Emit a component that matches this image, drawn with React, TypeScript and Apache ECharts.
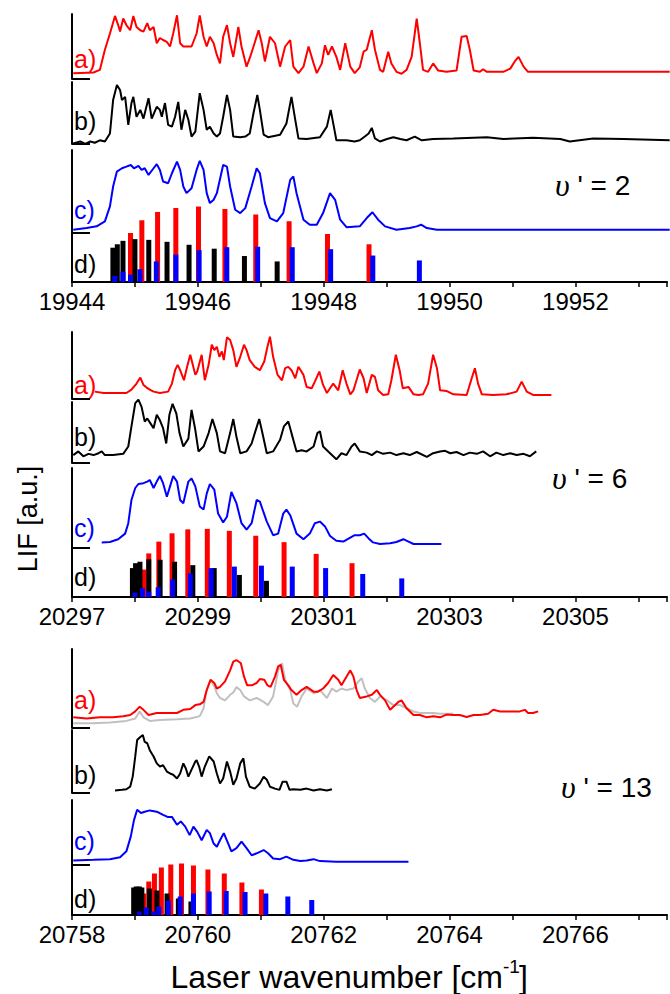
import React, { useEffect, useRef } from 'react';
import * as echarts from 'echarts';

type P = [number, number][];

// ---------- Panel 1 (v' = 2) ----------
const p1a: P = [[19944.02,0.09],[19944.34,0.10],[19944.44,0.14],[19944.52,0.45],[19944.60,0.70],[19944.68,0.97],[19944.73,0.83],[19944.76,0.73],[19944.81,0.93],[19944.86,0.83],[19944.92,0.75],[19944.97,0.97],[19945.02,0.80],[19945.08,0.75],[19945.13,0.73],[19945.19,0.86],[19945.23,0.75],[19945.29,0.80],[19945.34,0.55],[19945.39,0.63],[19945.44,0.60],[19945.50,0.57],[19945.55,0.50],[19945.60,0.70],[19945.66,0.98],[19945.71,0.55],[19945.76,0.50],[19945.81,0.50],[19945.89,0.50],[19945.97,0.70],[19946.02,0.98],[19946.08,0.65],[19946.13,0.50],[19946.18,0.65],[19946.24,0.55],[19946.29,0.37],[19946.34,0.24],[19946.39,0.65],[19946.45,0.83],[19946.50,0.55],[19946.55,0.34],[19946.63,0.80],[19946.68,0.50],[19946.76,0.19],[19946.81,0.32],[19946.87,0.50],[19946.95,0.75],[19947.00,0.55],[19947.05,0.27],[19947.13,0.65],[19947.21,0.55],[19947.29,0.19],[19947.37,0.50],[19947.45,0.60],[19947.50,0.19],[19947.58,0.09],[19947.66,0.19],[19947.74,0.50],[19947.82,0.24],[19947.87,0.09],[19947.95,0.24],[19948.00,0.52],[19948.05,0.37],[19948.11,0.50],[19948.18,0.34],[19948.24,0.14],[19948.32,0.55],[19948.40,0.19],[19948.47,0.09],[19948.55,0.18],[19948.61,0.42],[19948.66,0.45],[19948.74,0.75],[19948.79,0.45],[19948.87,0.14],[19948.92,0.11],[19949.00,0.42],[19949.05,0.24],[19949.13,0.11],[19949.21,0.08],[19949.29,0.14],[19949.37,0.34],[19949.45,0.93],[19949.50,0.55],[19949.55,0.14],[19949.63,0.11],[19949.71,0.24],[19949.79,0.13],[19949.92,0.11],[19950.08,0.13],[19950.16,0.65],[19950.24,0.66],[19950.29,0.45],[19950.35,0.13],[19950.45,0.11],[19950.50,0.15],[19950.56,0.11],[19950.82,0.11],[19950.93,0.16],[19951.00,0.27],[19951.06,0.34],[19951.14,0.19],[19951.21,0.11],[19951.29,0.11],[19953.45,0.11]];
const p1b: P = [[19944.02,0.01],[19944.13,0.04],[19944.21,0.00],[19944.29,0.04],[19944.36,0.02],[19944.44,0.06],[19944.52,0.04],[19944.60,0.17],[19944.65,0.71],[19944.71,0.95],[19944.76,0.87],[19944.79,0.71],[19944.84,0.76],[19944.89,0.31],[19944.94,0.66],[19944.97,0.76],[19945.02,0.44],[19945.08,0.55],[19945.13,0.41],[19945.21,0.74],[19945.26,0.41],[19945.34,0.60],[19945.39,0.55],[19945.42,0.44],[19945.47,0.66],[19945.52,0.31],[19945.58,0.28],[19945.63,0.44],[19945.68,0.68],[19945.73,0.23],[19945.79,0.55],[19945.84,0.39],[19945.89,0.12],[19945.95,0.20],[19946.02,0.82],[19946.08,0.55],[19946.13,0.23],[19946.18,0.28],[19946.24,0.17],[19946.29,0.12],[19946.34,0.17],[19946.39,0.44],[19946.45,0.79],[19946.50,0.55],[19946.55,0.12],[19946.66,0.11],[19946.74,0.12],[19946.81,0.17],[19946.87,0.50],[19946.93,0.79],[19946.97,0.55],[19947.03,0.15],[19947.10,0.11],[19947.29,0.15],[19947.39,0.33],[19947.47,0.76],[19947.53,0.39],[19947.58,0.09],[19947.71,0.08],[19947.92,0.11],[19948.03,0.28],[19948.09,0.55],[19948.14,0.28],[19948.18,0.06],[19948.34,0.06],[19948.47,0.04],[19948.55,0.06],[19948.63,0.12],[19948.69,0.17],[19948.74,0.26],[19948.79,0.09],[19948.87,0.04],[19948.98,0.08],[19949.08,0.11],[19949.19,0.08],[19949.29,0.06],[19949.42,0.12],[19949.53,0.06],[19949.71,0.08],[19950.03,0.09],[19950.56,0.11],[19950.82,0.08],[19951.29,0.10],[19951.72,0.08],[19951.87,0.04],[19952.24,0.09],[19952.72,0.08],[19953.45,0.06]];
const p1c: P = [[19944.02,0.04],[19944.23,0.06],[19944.39,0.08],[19944.52,0.14],[19944.60,0.32],[19944.65,0.56],[19944.71,0.74],[19944.79,0.78],[19944.86,0.80],[19944.93,0.82],[19944.98,0.78],[19945.05,0.81],[19945.10,0.76],[19945.15,0.78],[19945.21,0.70],[19945.29,0.78],[19945.34,0.83],[19945.39,0.76],[19945.44,0.62],[19945.52,0.60],[19945.58,0.72],[19945.66,0.86],[19945.71,0.76],[19945.76,0.56],[19945.81,0.48],[19945.89,0.54],[19945.97,0.76],[19946.02,0.87],[19946.08,0.76],[19946.13,0.48],[19946.18,0.36],[19946.24,0.40],[19946.29,0.48],[19946.39,0.82],[19946.45,0.80],[19946.50,0.56],[19946.58,0.28],[19946.66,0.24],[19946.74,0.30],[19946.84,0.56],[19946.92,0.78],[19946.97,0.72],[19947.05,0.36],[19947.13,0.18],[19947.24,0.14],[19947.34,0.24],[19947.45,0.64],[19947.50,0.68],[19947.55,0.48],[19947.66,0.16],[19947.76,0.10],[19947.87,0.10],[19947.97,0.24],[19948.08,0.48],[19948.16,0.40],[19948.24,0.16],[19948.34,0.07],[19948.55,0.08],[19948.66,0.18],[19948.75,0.25],[19948.84,0.16],[19948.95,0.08],[19949.13,0.04],[19949.34,0.06],[19949.45,0.08],[19949.52,0.10],[19949.61,0.06],[19949.77,0.04],[19953.45,0.04]];
const p1dBlack: P = [[19944.65,0.70],[19944.72,0.77],[19944.81,0.84],[19945.00,0.875],[19945.22,0.86],[19945.51,0.82],[19945.86,0.76],[19946.26,0.68],[19946.74,0.53],[19947.26,0.42]];
const p1dRed: P = [[19944.93,1.00],[19945.11,1.26],[19945.36,1.43],[19945.65,1.51],[19946.01,1.54],[19946.43,1.49],[19946.92,1.38],[19947.45,1.24],[19948.06,0.98],[19948.72,0.77]];
const p1dBlue: P = [[19944.68,0.125],[19944.81,0.21],[19944.93,0.15],[19945.08,0.26],[19945.34,0.42],[19945.65,0.56],[19946.02,0.65],[19946.46,0.71],[19946.95,0.72],[19947.50,0.71],[19948.11,0.67],[19948.78,0.54],[19949.52,0.44]];

// ---------- Panel 2 (v' = 6) ----------
const p2a: P = [[20297.36,0.11],[20297.50,0.09],[20297.65,0.09],[20297.86,0.09],[20297.94,0.14],[20298.02,0.23],[20298.08,0.32],[20298.13,0.21],[20298.18,0.17],[20298.23,0.14],[20298.29,0.11],[20298.39,0.09],[20298.52,0.11],[20298.58,0.23],[20298.63,0.43],[20298.67,0.51],[20298.71,0.43],[20298.77,0.28],[20298.82,0.48],[20298.87,0.66],[20298.91,0.51],[20298.95,0.36],[20298.98,0.41],[20299.05,0.66],[20299.10,0.28],[20299.16,0.51],[20299.21,0.81],[20299.25,0.73],[20299.29,0.78],[20299.33,0.63],[20299.37,0.71],[20299.40,0.58],[20299.45,0.92],[20299.50,0.88],[20299.55,0.73],[20299.60,0.48],[20299.66,0.63],[20299.72,0.81],[20299.76,0.73],[20299.81,0.58],[20299.89,0.48],[20299.97,0.43],[20300.04,0.56],[20300.09,0.78],[20300.13,0.93],[20300.18,0.63],[20300.25,0.36],[20300.32,0.28],[20300.37,0.46],[20300.42,0.48],[20300.47,0.43],[20300.53,0.31],[20300.58,0.48],[20300.66,0.36],[20300.71,0.18],[20300.79,0.16],[20300.84,0.26],[20300.91,0.41],[20300.97,0.21],[20301.03,0.09],[20301.08,0.16],[20301.13,0.23],[20301.21,0.13],[20301.28,0.43],[20301.34,0.23],[20301.40,0.07],[20301.45,0.13],[20301.55,0.44],[20301.61,0.31],[20301.66,0.09],[20301.74,0.36],[20301.79,0.33],[20301.84,0.13],[20301.92,0.06],[20302.00,0.07],[20302.05,0.28],[20302.12,0.66],[20302.18,0.43],[20302.23,0.16],[20302.32,0.18],[20302.40,0.07],[20302.48,0.06],[20302.55,0.07],[20302.63,0.23],[20302.71,0.66],[20302.77,0.46],[20302.82,0.13],[20302.92,0.12],[20303.03,0.07],[20303.24,0.06],[20303.32,0.31],[20303.37,0.46],[20303.42,0.23],[20303.48,0.07],[20303.66,0.06],[20303.87,0.07],[20304.03,0.11],[20304.11,0.26],[20304.19,0.11],[20304.29,0.06],[20304.58,0.06]];
const p2b: P = [[20297.02,0.13],[20297.10,0.19],[20297.18,0.11],[20297.26,0.15],[20297.34,0.13],[20297.42,0.16],[20297.47,0.19],[20297.52,0.13],[20297.65,0.13],[20297.81,0.15],[20297.89,0.27],[20297.94,0.60],[20298.00,0.98],[20298.05,1.04],[20298.10,0.92],[20298.15,0.68],[20298.19,0.73],[20298.24,0.65],[20298.29,0.57],[20298.34,0.79],[20298.39,0.70],[20298.44,0.57],[20298.49,0.32],[20298.54,0.79],[20298.59,0.97],[20298.65,0.81],[20298.70,0.49],[20298.76,0.27],[20298.84,0.40],[20298.89,0.87],[20298.95,0.54],[20299.00,0.19],[20299.08,0.27],[20299.16,0.49],[20299.22,0.72],[20299.29,0.49],[20299.34,0.19],[20299.42,0.16],[20299.50,0.49],[20299.55,0.72],[20299.60,0.43],[20299.66,0.16],[20299.76,0.19],[20299.84,0.32],[20299.89,0.49],[20299.96,0.72],[20300.00,0.54],[20300.08,0.16],[20300.18,0.19],[20300.29,0.38],[20300.35,0.60],[20300.42,0.68],[20300.47,0.49],[20300.55,0.19],[20300.63,0.21],[20300.71,0.19],[20300.82,0.27],[20300.88,0.49],[20300.92,0.52],[20300.97,0.27],[20301.08,0.16],[20301.18,0.06],[20301.26,0.16],[20301.34,0.13],[20301.42,0.27],[20301.47,0.32],[20301.55,0.19],[20301.66,0.17],[20301.74,0.13],[20301.82,0.19],[20301.92,0.15],[20302.03,0.17],[20302.13,0.13],[20302.24,0.16],[20302.34,0.13],[20302.45,0.18],[20302.61,0.10],[20302.71,0.16],[20302.82,0.19],[20302.90,0.20],[20302.98,0.16],[20303.08,0.18],[20303.19,0.13],[20303.29,0.17],[20303.40,0.15],[20303.50,0.19],[20303.61,0.11],[20303.71,0.17],[20303.82,0.13],[20303.93,0.16],[20304.03,0.13],[20304.14,0.15],[20304.24,0.11],[20304.34,0.19]];
const p2c: P = [[20297.47,0.07],[20297.60,0.075],[20297.73,0.11],[20297.84,0.18],[20297.89,0.31],[20297.94,0.60],[20298.00,0.75],[20298.05,0.80],[20298.13,0.81],[20298.19,0.83],[20298.23,0.85],[20298.29,0.75],[20298.34,0.83],[20298.39,0.90],[20298.44,0.81],[20298.50,0.64],[20298.55,0.77],[20298.60,0.90],[20298.66,0.83],[20298.71,0.60],[20298.76,0.56],[20298.84,0.83],[20298.89,0.87],[20298.95,0.77],[20299.02,0.52],[20299.08,0.48],[20299.13,0.68],[20299.18,0.80],[20299.25,0.73],[20299.31,0.43],[20299.39,0.32],[20299.45,0.39],[20299.52,0.70],[20299.60,0.56],[20299.68,0.31],[20299.76,0.23],[20299.84,0.31],[20299.92,0.60],[20299.97,0.58],[20300.08,0.33],[20300.18,0.16],[20300.26,0.18],[20300.34,0.43],[20300.39,0.48],[20300.45,0.41],[20300.55,0.18],[20300.66,0.11],[20300.76,0.18],[20300.84,0.31],[20300.92,0.33],[20301.00,0.27],[20301.08,0.15],[20301.18,0.09],[20301.29,0.08],[20301.40,0.13],[20301.47,0.16],[20301.55,0.16],[20301.62,0.18],[20301.69,0.12],[20301.76,0.07],[20301.87,0.05],[20302.03,0.06],[20302.13,0.075],[20302.24,0.11],[20302.32,0.08],[20302.40,0.05],[20302.61,0.05],[20302.84,0.05]];
const p2dBlack: P = [[20297.96,0.59],[20298.01,0.69],[20298.08,0.72],[20298.22,0.77],[20298.40,0.76],[20298.63,0.72],[20298.92,0.65],[20299.26,0.59],[20299.66,0.45],[20300.09,0.33]];
const p2dRed: P = [[20298.14,0.56],[20298.22,0.89],[20298.38,1.13],[20298.59,1.30],[20298.84,1.38],[20299.15,1.39],[20299.50,1.35],[20299.92,1.25],[20300.37,1.12],[20300.88,0.88],[20301.45,0.69]];
const p2dBlue: P = [[20298.00,0.09],[20298.12,0.18],[20298.22,0.11],[20298.37,0.20],[20298.60,0.36],[20298.88,0.48],[20299.21,0.59],[20299.58,0.62],[20300.01,0.64],[20300.50,0.62],[20301.03,0.59],[20301.62,0.47],[20302.24,0.38]];

// ---------- Panel 3 (v' = 13) ----------
const p3a: P = [[20758.02,0.135],[20758.23,0.12],[20758.44,0.135],[20758.65,0.135],[20758.81,0.15],[20758.92,0.165],[20759.00,0.21],[20759.07,0.27],[20759.13,0.23],[20759.21,0.165],[20759.34,0.19],[20759.50,0.19],[20759.66,0.19],[20759.76,0.23],[20759.87,0.24],[20759.95,0.29],[20760.02,0.30],[20760.08,0.33],[20760.13,0.48],[20760.19,0.61],[20760.25,0.57],[20760.29,0.50],[20760.34,0.52],[20760.42,0.59],[20760.50,0.73],[20760.55,0.84],[20760.60,0.86],[20760.67,0.82],[20760.72,0.65],[20760.77,0.54],[20760.84,0.54],[20760.92,0.57],[20760.97,0.62],[20761.04,0.61],[20761.09,0.54],[20761.14,0.52],[20761.21,0.65],[20761.26,0.78],[20761.30,0.80],[20761.35,0.61],[20761.42,0.54],[20761.47,0.48],[20761.55,0.42],[20761.63,0.48],[20761.71,0.52],[20761.82,0.46],[20761.89,0.46],[20761.97,0.50],[20762.05,0.57],[20762.13,0.67],[20762.21,0.61],[20762.26,0.54],[20762.34,0.65],[20762.40,0.73],[20762.45,0.65],[20762.50,0.48],[20762.55,0.38],[20762.66,0.40],[20762.74,0.42],[20762.82,0.48],[20762.87,0.42],[20762.95,0.35],[20763.03,0.23],[20763.08,0.27],[20763.16,0.33],[20763.21,0.35],[20763.29,0.25],[20763.40,0.165],[20763.50,0.165],[20763.61,0.135],[20763.71,0.15],[20763.82,0.135],[20763.92,0.17],[20764.03,0.165],[20764.13,0.165],[20764.24,0.14],[20764.35,0.165],[20764.45,0.165],[20764.58,0.18],[20764.66,0.23],[20764.77,0.21],[20764.93,0.21],[20765.08,0.21],[20765.16,0.23],[20765.21,0.19],[20765.29,0.19],[20765.37,0.21]];
const p3aGray: P = [[20758.02,0.06],[20758.34,0.06],[20758.60,0.07],[20758.86,0.09],[20759.00,0.12],[20759.07,0.21],[20759.13,0.135],[20759.23,0.09],[20759.39,0.10],[20759.66,0.11],[20759.87,0.12],[20760.02,0.15],[20760.08,0.25],[20760.13,0.48],[20760.19,0.61],[20760.25,0.53],[20760.29,0.44],[20760.34,0.38],[20760.42,0.35],[20760.50,0.42],[20760.55,0.45],[20760.60,0.52],[20760.66,0.48],[20760.72,0.40],[20760.81,0.35],[20760.92,0.38],[20761.03,0.33],[20761.10,0.29],[20761.18,0.40],[20761.26,0.73],[20761.32,0.82],[20761.37,0.61],[20761.45,0.48],[20761.50,0.31],[20761.56,0.27],[20761.63,0.40],[20761.71,0.50],[20761.82,0.44],[20761.92,0.48],[20762.03,0.38],[20762.11,0.50],[20762.18,0.46],[20762.26,0.50],[20762.34,0.48],[20762.45,0.50],[20762.52,0.58],[20762.58,0.63],[20762.63,0.50],[20762.71,0.38],[20762.79,0.33],[20762.87,0.40],[20762.98,0.35],[20763.08,0.29],[20763.19,0.29],[20763.29,0.25],[20763.40,0.21],[20763.50,0.19],[20763.61,0.19],[20763.71,0.19],[20763.82,0.18],[20763.92,0.18],[20764.03,0.18]];
const p3b: P = [[20758.68,0.04],[20758.79,0.05],[20758.86,0.06],[20758.92,0.10],[20758.96,0.26],[20759.00,0.58],[20759.03,0.84],[20759.08,0.89],[20759.12,0.92],[20759.15,0.81],[20759.19,0.79],[20759.23,0.68],[20759.29,0.58],[20759.34,0.47],[20759.39,0.42],[20759.44,0.44],[20759.50,0.34],[20759.55,0.31],[20759.60,0.29],[20759.66,0.23],[20759.71,0.31],[20759.76,0.47],[20759.80,0.39],[20759.84,0.26],[20759.89,0.37],[20759.95,0.50],[20759.97,0.52],[20760.01,0.42],[20760.05,0.26],[20760.10,0.42],[20760.17,0.58],[20760.24,0.50],[20760.29,0.31],[20760.34,0.15],[20760.39,0.23],[20760.45,0.50],[20760.50,0.34],[20760.55,0.13],[20760.60,0.23],[20760.66,0.47],[20760.71,0.55],[20760.75,0.26],[20760.81,0.10],[20760.89,0.07],[20760.97,0.15],[20761.03,0.26],[20761.08,0.21],[20761.13,0.10],[20761.21,0.07],[20761.28,0.05],[20761.33,0.18],[20761.39,0.18],[20761.44,0.05],[20761.50,0.06],[20761.61,0.05],[20761.71,0.07],[20761.82,0.04],[20761.92,0.06],[20762.03,0.04],[20762.11,0.06]];
const p3c: P = [[20758.02,0.07],[20758.34,0.08],[20758.60,0.09],[20758.76,0.12],[20758.86,0.21],[20758.93,0.44],[20758.98,0.69],[20759.03,0.85],[20759.09,0.80],[20759.15,0.82],[20759.23,0.84],[20759.34,0.82],[20759.44,0.77],[20759.51,0.74],[20759.58,0.74],[20759.66,0.62],[20759.72,0.67],[20759.79,0.59],[20759.86,0.46],[20759.92,0.59],[20759.98,0.51],[20760.05,0.38],[20760.13,0.54],[20760.18,0.49],[20760.24,0.33],[20760.29,0.28],[20760.34,0.38],[20760.40,0.49],[20760.47,0.33],[20760.52,0.21],[20760.60,0.26],[20760.68,0.36],[20760.76,0.26],[20760.84,0.15],[20760.92,0.18],[20761.03,0.23],[20761.10,0.18],[20761.18,0.10],[20761.29,0.09],[20761.39,0.13],[20761.50,0.08],[20761.61,0.06],[20761.71,0.07],[20761.82,0.09],[20761.92,0.06],[20762.18,0.05],[20762.55,0.05],[20763.32,0.05]];
const p3dBlack: P = [[20758.98,0.55],[20759.02,0.57],[20759.07,0.57],[20759.11,0.55],[20759.23,0.53],[20759.35,0.49],[20759.51,0.43],[20759.69,0.33],[20759.89,0.27]];
const p3dRed: P = [[20759.14,0.43],[20759.22,0.67],[20759.31,0.83],[20759.42,0.95],[20759.57,1.01],[20759.74,1.03],[20759.93,0.99],[20760.16,0.91],[20760.42,0.83],[20760.70,0.65],[20761.01,0.51]];
const p3dBlue: P = [[20759.07,0.07],[20759.18,0.15],[20759.30,0.07],[20759.38,0.17],[20759.53,0.29],[20759.72,0.37],[20759.93,0.43],[20760.18,0.47],[20760.45,0.48],[20760.75,0.46],[20761.08,0.43],[20761.43,0.37],[20761.81,0.30]];

const axisStarts = [19944, 20297, 20758];
const vibLevels = ['2', '6', '13'];
const rowLabels = ['a)', 'b)', 'c)', 'd)'];

const RED = '#ff0000';
const BLUE = '#0000ff';
const BLACK = '#000000';
const GRAY = '#c0c0c0';
const SANS = 'Liberation Sans, Arial, sans-serif';

const panels = [
  { a: p1a, gray: null as P | null, b: p1b, c: p1c, red: p1dRed, black: p1dBlack, blue: p1dBlue,
    rows: [[14, 79], [82, 144], [150, 233], [233, 282]], labelY: [59, 121, 210, 264], vib: [555, 185] },
  { a: p2a, gray: null as P | null, b: p2b, c: p2c, red: p2dRed, black: p2dBlack, blue: p2dBlue,
    rows: [[332, 399], [402, 463], [468, 548], [548, 597]], labelY: [385, 437, 528, 577], vib: [552, 478] },
  { a: p3a, gray: p3aGray, b: p3b, c: p3c, red: p3dRed, black: p3dBlack, blue: p3dBlue,
    rows: [[649, 728], [730, 793], [800, 865], [865, 915]], labelY: [700, 775, 841, 899], vib: [561, 787] },
];

function buildOption() {
  const grid: any[] = [];
  const xAxis: any[] = [];
  const yAxis: any[] = [];
  const series: any[] = [];
  const graphic: any[] = [];
  const SPAN = 9.455;

  panels.forEach((p, i) => {
    const x0 = axisStarts[i];
    p.rows.forEach((r, k) => {
      const gi = i * 4 + k;
      grid.push({ left: 72, right: 0, top: r[0], height: r[1] - r[0] });
      xAxis.push({
        gridIndex: gi, type: 'value', min: x0, max: x0 + SPAN, interval: 1,
        show: k === 3,
        axisLine: { show: true, onZero: false, lineStyle: { color: BLACK, width: 2 } },
        axisTick: { show: true, length: 5, lineStyle: { color: BLACK, width: 1.5 } },
        axisLabel: {
          show: true, color: BLACK, fontSize: 24, fontFamily: SANS, margin: 7,
          formatter: (v: number) => {
            const d = Math.round((v - x0) * 1000) / 1000;
            return Number.isInteger(d) && d % 2 === 0 ? String(Math.round(v)) : '';
          },
        },
        splitLine: { show: false },
      });
      yAxis.push({
        gridIndex: gi, type: 'value', min: 0, max: 1, interval: 1,
        axisLine: { show: true, onZero: false, lineStyle: { color: BLACK, width: 2 } },
        axisTick: { show: k < 3, inside: true, length: 18, customValues: [0], lineStyle: { color: BLACK, width: 2 } },
        axisLabel: { show: false },
        splitLine: { show: false },
      });
      graphic.push({
        type: 'text', x: 74, y: p.labelY[k],
        style: { text: rowLabels[k], fontSize: 25, fontFamily: SANS, fill: k === 0 ? RED : k === 2 ? BLUE : BLACK, verticalAlign: 'middle' },
        silent: true,
      });
    });
    const base = i * 4;
    const line = (data: P, gi: number, color: string, z = 2) => ({
      type: 'line', xAxisIndex: gi, yAxisIndex: gi, data, showSymbol: false, symbol: 'none',
      lineStyle: { color, width: 2 }, clip: false, silent: true, z,
    });
    if (p.gray) series.push(line(p.gray, base, GRAY, 1));
    series.push(line(p.a, base, RED, 2));
    series.push(line(p.b, base + 1, BLACK));
    series.push(line(p.c, base + 2, BLUE));
    const bar = (data: P, color: string, z: number) => ({
      type: 'bar', xAxisIndex: base + 3, yAxisIndex: base + 3, data, barWidth: 5, barGap: '-100%',
      itemStyle: { color }, clip: false, silent: true, z,
    });
    series.push(bar(p.red, RED, 2));
    series.push(bar(p.black, BLACK, 3));
    series.push(bar(p.blue, BLUE, 4));

    graphic.push({
      type: 'text', x: p.vib[0], y: p.vib[1],
      style: {
        text: '{u|\u03c5}{t| \' = ' + vibLevels[i] + '}',
        verticalAlign: 'middle',
        rich: {
          u: { fontFamily: 'Liberation Serif, serif', fontStyle: 'italic', fontSize: 32, fill: BLACK },
          t: { fontFamily: SANS, fontSize: 28, fill: BLACK },
        },
      },
      silent: true,
    });
  });

  graphic.push({
    type: 'text', x: 28, y: 519, rotation: Math.PI / 2,
    style: { text: 'LIF [a.u.]', fontSize: 27, fontFamily: SANS, fill: BLACK, align: 'center', verticalAlign: 'middle' },
    silent: true,
  });
  // x-axis title, built from three pieces so that the superscript can sit high
  graphic.push({
    type: 'text', x: 503, y: 977,
    style: { text: 'Laser wavenumber [cm', fontSize: 32, fontFamily: SANS, fill: BLACK, align: 'right', verticalAlign: 'middle' },
    silent: true,
  });
  graphic.push({
    type: 'text', x: 503, y: 966,
    style: { text: '-1', fontSize: 19, fontFamily: SANS, fill: BLACK, align: 'left', verticalAlign: 'middle' },
    silent: true,
  });
  graphic.push({
    type: 'text', x: 519, y: 977,
    style: { text: ']', fontSize: 32, fontFamily: SANS, fill: BLACK, align: 'left', verticalAlign: 'middle' },
    silent: true,
  });

  return { animation: false, backgroundColor: '#ffffff', grid, xAxis, yAxis, series, graphic };
}

export default function App() {
  const ref = useRef<HTMLDivElement>(null);
  useEffect(() => {
    document.body.style.margin = '0';
    if (!ref.current) return;
    const chart = echarts.init(ref.current, undefined, { renderer: 'svg' });
    chart.setOption(buildOption() as any);
    return () => chart.dispose();
  }, []);
  return <div ref={ref} style={{ width: 670, height: 994 }} />;
}
